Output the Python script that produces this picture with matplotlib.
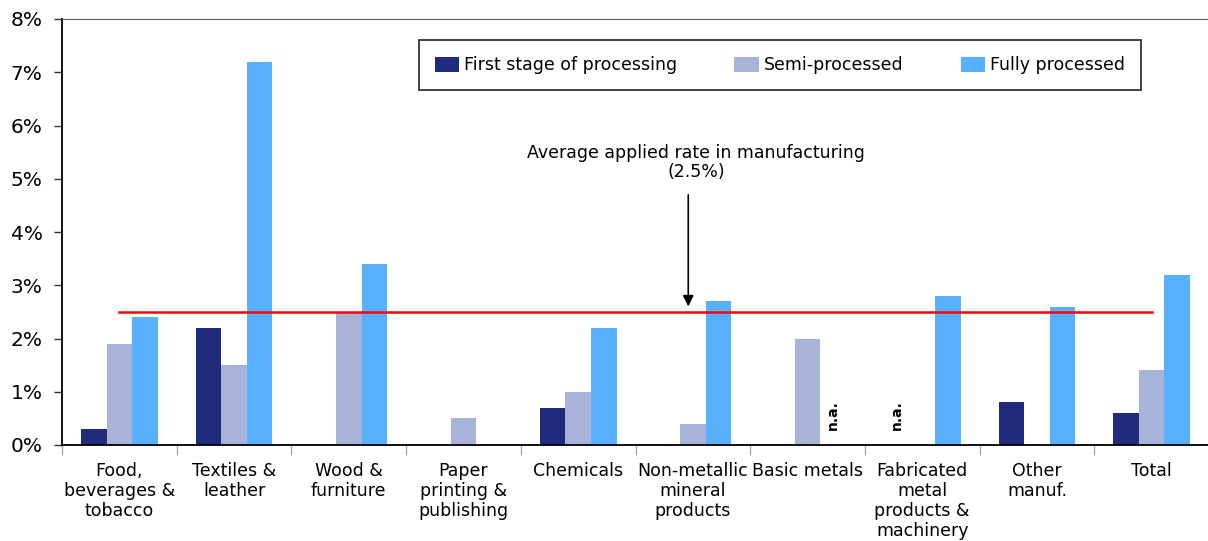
import matplotlib
matplotlib.use("Agg")
import matplotlib.pyplot as plt
import numpy as np
from matplotlib.patches import Patch

plt.rcParams['font.family'] = ['DejaVu Sans']

categories = ["Food,\nbeverages &\ntobacco", "Textiles &\nleather", "Wood &\nfurniture",
              "Paper\nprinting &\npublishing", "Chemicals", "Non-metallic\nmineral\nproducts",
              "Basic metals", "Fabricated\nmetal\nproducts &\nmachinery", "Other\nmanuf.", "Total"]
series_names = ["First stage of processing", "Semi-processed", "Fully processed"]
# None marks a value that is not available (n.a.)
first_stage = [0.3, 2.2, 0.0, 0.0, 0.7, 0.0, 0.0, None, 0.8, 0.6]
semi_processed = [1.9, 1.5, 2.5, 0.5, 1.0, 0.4, 2.0, 0.0, 0.0, 1.4]
fully_processed = [2.4, 7.2, 3.4, 0.0, 2.2, 2.7, None, 2.8, 2.6, 3.2]
average_rate = 2.5
y_ticks = [0, 1, 2, 3, 4, 5, 6, 7, 8]

colors = ["#212B7B", "#A9B2D8", "#57B1FF"]

W, H = 1208, 541
fig = plt.figure(figsize=(W / 100, H / 100), dpi=100)
ax = fig.add_axes([62 / W, 96 / H, (1209 - 62) / W, (445 - 19) / H])

x = np.arange(len(categories))
bw = 0.223
for k, (vals, col, name) in enumerate(zip([first_stage, semi_processed, fully_processed], colors, series_names)):
    off = (k - 1) * bw
    for i, v in enumerate(vals):
        if v is None:
            ax.text(x[i] + off, 0.28, "n.a.", rotation=90, ha="center", va="bottom",
                    fontsize=10, fontweight="bold")
        elif v > 0:
            ax.bar(x[i] + off, v, width=bw, color=col, edgecolor="none")

# average applied rate line
ax.plot([x[0], x[-1]], [average_rate, average_rate], color="#FF0000", lw=1.8, zorder=3)
ax.annotate("", xy=(4.96, average_rate + 0.05), xytext=(4.96, 4.75),
            arrowprops=dict(arrowstyle="-|>", color="black", lw=1.2, mutation_scale=16))
ax.text(5.03, 5.3, "Average applied rate in manufacturing\n(2.5%)", ha="center", va="center",
        fontsize=12.5, linespacing=1.1)

ax.set_xlim(-0.5, len(categories) - 0.5)
ax.set_ylim(0, 8)
ax.set_yticks(y_ticks)
ax.set_yticklabels([f"{t}%" for t in y_ticks], fontsize=14.5)
ax.tick_params(axis="y", length=6, width=1, color="#333333", pad=8)

ax.set_xticks(x)
ax.set_xticklabels(categories, fontsize=12.5, va="top", linespacing=1.15)
ax.tick_params(axis="x", length=0, pad=12)
ax.set_xticks(np.arange(len(categories) + 1) - 0.5, minor=True)
ax.tick_params(axis="x", which="minor", length=7, width=1, color="#AAAAAA")

ax.spines["right"].set_visible(False)
ax.spines["top"].set_color("#555555")
ax.spines["left"].set_linewidth(1.3)
ax.spines["bottom"].set_linewidth(1.3)

handles = [Patch(facecolor=c, edgecolor="none") for c in colors]
leg = fig.legend(handles, series_names, loc="center", bbox_to_anchor=(780 / W, 1 - 65 / H),
                 ncol=3, fontsize=12.5, frameon=True, fancybox=False, edgecolor="black",
                 handlelength=1.4, handleheight=0.95, handletextpad=0.3, columnspacing=3.3,
                 borderpad=0.9)
leg.get_frame().set_linewidth(1.3)

fig.savefig("out.png", dpi=100)
